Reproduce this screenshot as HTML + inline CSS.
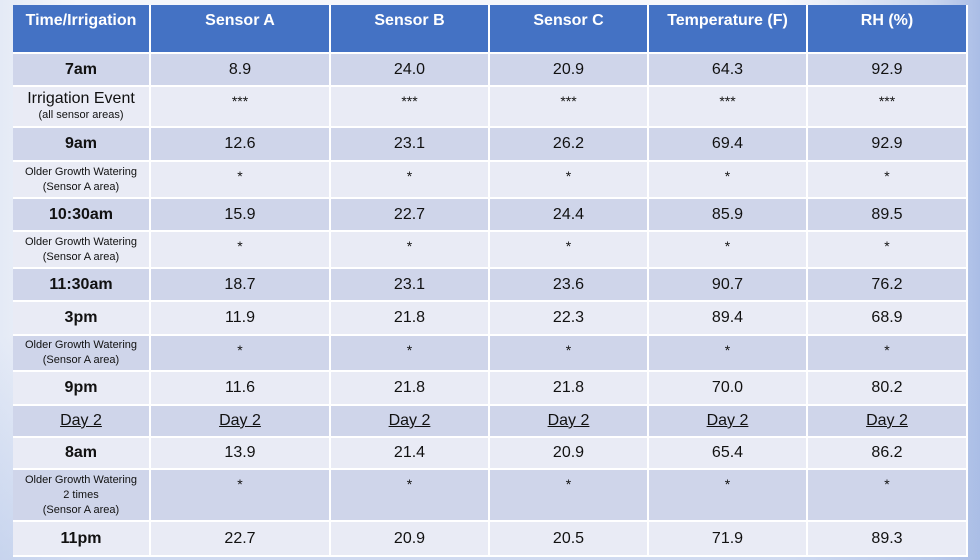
<!DOCTYPE html>
<html><head><style>
body{margin:0;width:980px;height:560px;overflow:hidden;font-family:"Liberation Sans",sans-serif;
background:linear-gradient(90deg,#e4eaf6 0%,#f4f6fb 8%,#f6f7fb 80%,#c9d6ef 95%,#aabde6 100%);}
.bg2{position:absolute;left:0;top:0;width:980px;height:560px;background:linear-gradient(180deg,rgba(255,255,255,0) 60%,rgba(170,190,230,.5) 100%);}
.c{position:absolute;box-sizing:border-box;display:flex;flex-direction:column;align-items:center;justify-content:center;text-align:center;color:#111;font-size:16px;border-right:2px solid #fff;border-bottom:2px solid #fff;}
.h{background:#4472c4;color:#fff;font-weight:bold;font-size:16px;justify-content:flex-start;padding-top:7px}
.d{background:#cfd5ea}.l{background:#e9ebf5}
.b{font-weight:bold}
.s{font-size:11px;line-height:15px}
.t{justify-content:flex-start;padding-top:6px;font-size:14px}
u{text-decoration:underline}
</style></head><body><div class="bg2"></div>
<div id="t"></div>
<script>
const xs=[13,151,331,490,649,808,968];
const ys=[5,54,87,128,162,199,232,269,302,336,372,406,438,470,522,557];
const rows=[
["h",["Time/Irrigation","Sensor A","Sensor B","Sensor C","Temperature (F)","RH (%)"]],
["d",["<b>7am</b>","8.9","24.0","20.9","64.3","92.9"]],
["l",["Irrigation Event<span class='s'>(all sensor areas)</span>","***","***","***","***","***"],1],
["d",["<b>9am</b>","12.6","23.1","26.2","69.4","92.9"]],
["l",["<span class='s'>Older Growth Watering<br>(Sensor A area)</span>","*","*","*","*","*"],1],
["d",["<b>10:30am</b>","15.9","22.7","24.4","85.9","89.5"]],
["l",["<span class='s'>Older Growth Watering<br>(Sensor A area)</span>","*","*","*","*","*"],1],
["d",["<b>11:30am</b>","18.7","23.1","23.6","90.7","76.2"]],
["l",["<b>3pm</b>","11.9","21.8","22.3","89.4","68.9"]],
["d",["<span class='s'>Older Growth Watering<br>(Sensor A area)</span>","*","*","*","*","*"],1],
["l",["<b>9pm</b>","11.6","21.8","21.8","70.0","80.2"]],
["d",["<u>Day 2</u>","<u>Day 2</u>","<u>Day 2</u>","<u>Day 2</u>","<u>Day 2</u>","<u>Day 2</u>"]],
["l",["<b>8am</b>","13.9","21.4","20.9","65.4","86.2"]],
["d",["<span class='s'>Older Growth Watering<br>2 times<br>(Sensor A area)</span>","*","*","*","*","*"],1],
["l",["<b>11pm</b>","22.7","20.9","20.5","71.9","89.3"]]];
let h="";
rows.forEach((r,i)=>{for(let j=0;j<6;j++){
 let cls="c "+r[0]+(r[2]&&j>0?" t":"");
 h+=`<div class="${cls}" style="left:${xs[j]}px;top:${ys[i]}px;width:${xs[j+1]-xs[j]}px;height:${ys[i+1]-ys[i]}px">${r[1][j]}</div>`;}});
document.getElementById("t").innerHTML=h;
</script>
</body></html>
